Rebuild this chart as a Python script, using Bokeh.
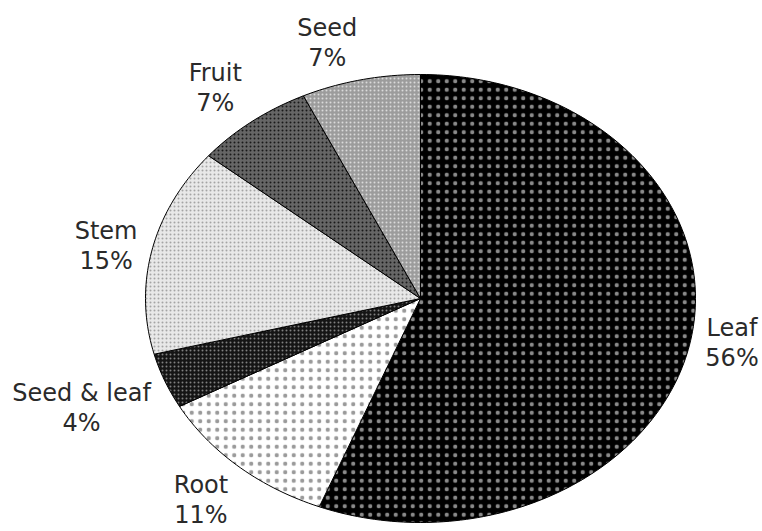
import math
from bokeh.plotting import figure
from bokeh.models import Range1d
from bokeh.core.properties import value
from bokeh.embed import file_html
from bokeh.resources import INLINE

# ---- data ----
categories = ["Leaf", "Root", "Seed & leaf", "Stem", "Fruit", "Seed"]
percents = [56, 11, 4, 15, 7, 7]

# ---- styles (per slice) ----
fill_colors = ["#000000", "#ffffff", "#151515", "#e8e8e8", "#666666", "#9c9c9c"]
hatch_colors = ["#8a8a8a", "#9a9a9a", "#808080", "#a4a4a4", "#1a1a1a", "#dadada"]
hatch_scales = [8.5, 8.5, 4, 4, 4, 4]
hatch_weights = [0.6, 0.6, 1, 1, 1, 1]

# ---- geometry of the (stretched) pie, in page pixels ----
CX, CY, RX, RY = 420, 298, 275, 224
FS = 24
GAP = 15

# approximate DejaVu Sans advance widths (per 1000 em) for label sizing
_CW = {"S": 635, "e": 615, "d": 635, " ": 318, "&": 780, "l": 278, "a": 613,
       "f": 352, "L": 557, "R": 695, "o": 612, "t": 392, "F": 575, "r": 411,
       "u": 634, "i": 278, "m": 974, "%": 950}


def text_width(s):
    return sum(_CW.get(ch, 636) for ch in s) * FS / 1000.0


W, H = 762, 531
p = figure(width=W, height=H, output_backend="svg", toolbar_location=None,
           x_range=Range1d(0, W), y_range=Range1d(H, 0),
           min_border=0)
p.title.visible = False
p.axis.visible = False
p.grid.visible = False
p.outline_line_color = None
p.background_fill_color = "white"
p.border_fill_color = "white"

total = float(sum(percents))
cum = 0.0
name_x, name_y, pct_x, pct_y, pct_txt = [], [], [], [], []
for i, (cat, v) in enumerate(zip(categories, percents)):
    a0 = cum / total * 2 * math.pi
    a1 = (cum + v) / total * 2 * math.pi
    cum += v
    n = max(4, int(v * 3))
    xs = [CX]
    ys = [CY]
    for k in range(n + 1):
        t = a0 + (a1 - a0) * k / n
        xs.append(CX + RX * math.sin(t))
        ys.append(CY - RY * math.cos(t))
    p.patch(xs, ys, fill_color=fill_colors[i], line_color="black", line_width=1,
            hatch_pattern="dot", hatch_color=hatch_colors[i],
            hatch_scale=hatch_scales[i], hatch_weight=hatch_weights[i])
    # label block placement: just outside the rim at the slice's mid angle
    tm = (a0 + a1) / 2
    s, c = math.sin(tm), -math.cos(tm)  # c: downward component
    px = CX + RX * s
    py = CY + RY * c
    pct = f"{v}%"
    hw = max(text_width(cat), text_width(pct)) / 2
    hh = 22
    sx = 0 if abs(s) < 0.1 else (1 if s > 0 else -1)
    sy = 0 if abs(c) < 0.3 else (1 if c > 0 else -1)
    bx = px + s * GAP + sx * hw
    by = py + c * GAP + sy * hh
    bx = min(bx, W - hw - 2)
    name_x.append(bx); name_y.append(by - 15)
    pct_x.append(bx); pct_y.append(by + 15)
    pct_txt.append(pct)

common = dict(text_font=value("DejaVu Sans"), text_font_size=f"{FS}px",
              text_color="#2a2a2a", text_align="center", text_baseline="middle")
p.text(x=name_x, y=name_y, text=categories, **common)
p.text(x=pct_x, y=pct_y, text=pct_txt, **common)

open("out.html", "w").write(file_html(p, INLINE))
